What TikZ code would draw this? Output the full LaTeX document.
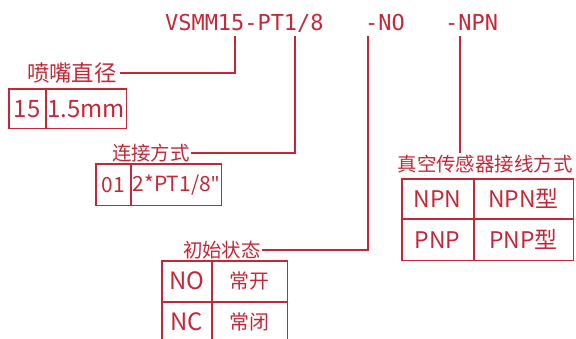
\documentclass[tikz,border=0pt]{standalone}
\usepackage{fontspec}
\setmainfont{Noto Sans CJK SC}
\newfontfamily\codefont{DejaVu Sans Mono}
\newfontfamily\quotefont{Noto Sans}
\definecolor{lred}{HTML}{C42838}
\tikzset{
  every node/.style={text=lred, inner sep=0pt},
  leader/.style={draw=lred, line width=1.6pt},
  code/.style={font=\codefont\fontsize{22}{22}\selectfont, anchor=base west},
  lab/.style={font=\fontsize{#1}{#1}\selectfont},
  lab/.default=19.5,
  cell/.style={draw=lred, line width=1.6pt, anchor=north west, font=\fontsize{#1}{#1}\selectfont},
  cell/.default=24
}
\begin{document}
\begin{tikzpicture}[x=1bp, y=-1bp]
    \useasboundingbox (0,0) rectangle (576,338);
    % model code
    \node[code] (model) at (165,30) {VSMM15-PT1/8};
    \node[code] (state) at (365,30) {-NO};
    \node[code] (wire) at (445,30) {-NPN};
    \coordinate (t1) at (235,36);
    \coordinate (t2) at (295,36);
    \coordinate (t3) at (368,36);
    \coordinate (t4) at (460,36);
    % nozzle
    \node[lab=22.5, anchor=east, inner xsep=3pt] (dia) at (120,73) {喷嘴直径};
    \node[cell, minimum width=37, minimum height=40] (d1) at (8,88) {15};
    \node[cell, minimum width=81, minimum height=40] (d2) at (45,88) {1.5mm};
    \draw[leader] (t1) |- (dia.east);
    % thread
    \node[lab, anchor=east, inner xsep=1pt] (con) at (191,153) {连接方式};
    \node[cell=21, minimum width=35, minimum height=42] (c1) at (95,163) {01};
    \node[cell=21, minimum width=91, minimum height=42] (c2) at (130,163) {2*PT1/8{\quotefont\symbol{"22}}};
    \draw[leader] (t2) |- (con.east);
    % initial state
    \node[lab, anchor=east, inner xsep=1pt] (ini) at (262,250) {初始状态};
    \node[cell, minimum width=50, minimum height=41] (s1) at (161,260) {NO};
    \node[cell=20, minimum width=76, minimum height=41] (s2) at (211,260) {常开};
    \node[cell, minimum width=50, minimum height=41] (s3) at (161,301) {NC};
    \node[cell=20, minimum width=76, minimum height=41] (s4) at (211,301) {常闭};
    \draw[leader] (t3) |- (ini.east);
    % sensor wiring
    \node[lab, anchor=north, inner ysep=2pt] (sens) at (485,153) {真空传感器接线方式};
    \node[cell=23, minimum width=72, minimum height=40] (w1) at (401,178) {NPN};
    \node[cell=23, minimum width=100, minimum height=40] (w2) at (473,178) {NPN型};
    \node[cell=23, minimum width=72, minimum height=42] (w3) at (401,218) {PNP};
    \node[cell=23, minimum width=100, minimum height=42] (w4) at (473,218) {PNP型};
    \draw[leader] (t4) -- (t4 |- sens.north);
\end{tikzpicture}
\end{document}
